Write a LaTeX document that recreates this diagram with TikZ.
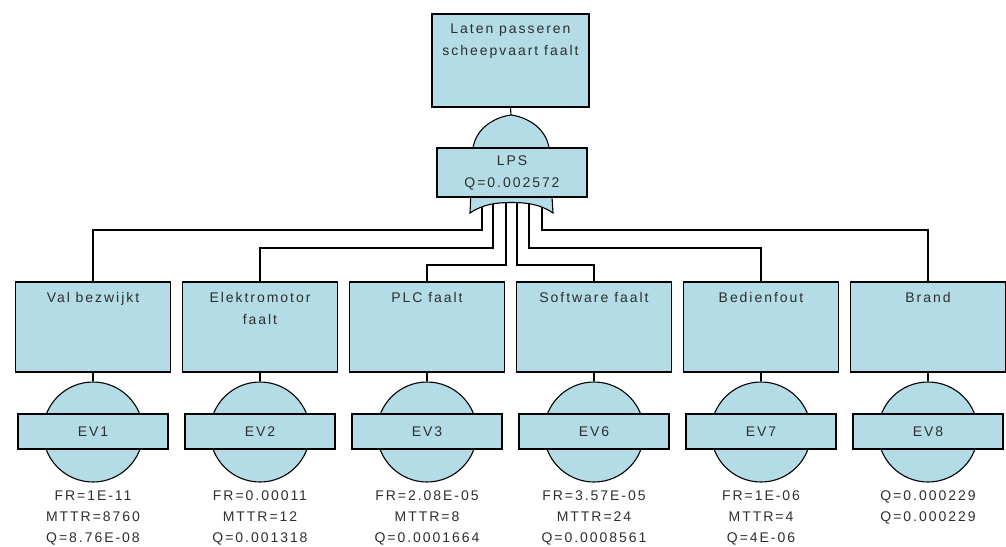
\documentclass[tikz,border=0pt]{standalone}
\usepackage{fontspec}
\setmainfont{Liberation Sans}[LetterSpace=14]
\usepackage{xcolor}
\usepackage{tikz}
\usetikzlibrary{positioning,calc}
\definecolor{ftblue}{HTML}{B4DCE6}
\definecolor{fttext}{HTML}{2E2E2E}

\begin{document}
\begin{tikzpicture}[x=1pt,y=-1pt, line width=1.1pt,
  every node/.style={font=\fontsize{14}{22}\selectfont, text=fttext, inner sep=0pt},
  ftbox/.style={draw, fill=ftblue, minimum width=155pt, minimum height=90pt},
  evbar/.style={draw, fill=ftblue, minimum width=150pt, minimum height=35pt},
  evdisc/.style={draw, fill=ftblue, circle, minimum size=100pt}]
\useasboundingbox (0,0) rectangle (1006,546);
\node[ftbox, minimum width=157pt, minimum height=93pt] (top) at (510.5,60.5) {};
\node[below=10pt of top.north, align=center] (toptxt) {Laten passeren\\scheepvaart faalt};
\coordinate (gtip) at (511,115);
\foreach \i/\x/\gx/\lvl/\name/\ev/\dat in {
  1/93/482/230/{Val bezwijkt}/EV1/{FR=1E-11\\MTTR=8760\\Q=8.76E-08},
  2/260/493/248/{Elektromotor\\faalt}/EV2/{FR=0.00011\\MTTR=12\\Q=0.001318},
  3/427/506/265/{PLC faalt}/EV3/{FR=2.08E-05\\MTTR=8\\Q=0.0001664},
  4/594/517/265/{Software faalt}/EV6/{FR=3.57E-05\\MTTR=24\\Q=0.0008561},
  5/761/529/248/{Bedienfout}/EV7/{FR=1E-06\\MTTR=4\\Q=4E-06},
  6/928/542/230/{Brand}/EV8/{Q=0.000229\\Q=0.000229}} {
  \node[ftbox] (b\i) at (\x,327) {};
  \node[below=10pt of b\i.north, align=center] (n\i) {\name};
  \node[evdisc] (d\i) at (\x,432) {};
  \node[evbar] (e\i) at (\x,431.5) {\ev};
  \node[below=8pt of d\i.south, align=center, font=\fontsize{14}{21}\selectfont] (q\i) {\dat};
  \draw (b\i.south) -- (d\i.north);
  \coordinate (in\i) at (\gx,200);
  \draw (in\i) -- (in\i |- 0,\lvl) -| (b\i.north);
}
\draw[fill=ftblue] (470,213) -- (473,148) .. controls (476,128) and (495,117) .. (gtip)
  .. controls (527,117) and (546,128) .. (549,148) -- (553,213)
  .. controls (540,204) and (526,202.5) .. (511.5,202.5)
  .. controls (497,202.5) and (483,204) .. (470,213) -- cycle;
\draw (top.south) -- (gtip);
\node[draw, fill=ftblue, minimum width=150pt, minimum height=49pt, align=center] (lps) at (512,172.5) {LPS\\Q=0.002572};
\end{tikzpicture}
\end{document}
